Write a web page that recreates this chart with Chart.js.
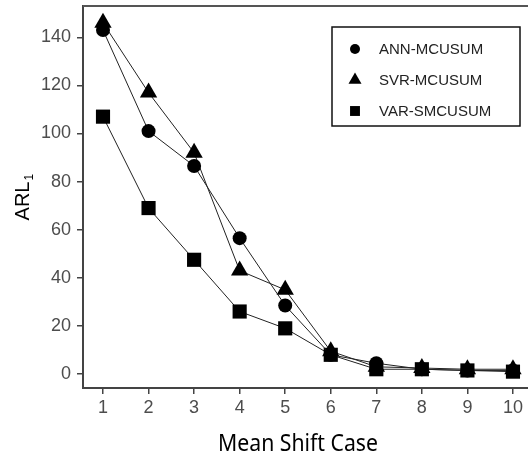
<!DOCTYPE html>
<html>
<head>
<meta charset="utf-8">
<script src="https://cdn.jsdelivr.net/npm/chart.js@4.4.1/dist/chart.umd.min.js"></script>
<style>
  html, body { margin: 0; padding: 0; background: #fff; }
  #wrap { width: 528px; height: 453px; }
</style>
</head>
<body>
<div id="wrap"><canvas id="myChart" width="528" height="453"></canvas></div>
<script>
// chart values
const shiftCases = [1, 2, 3, 4, 5, 6, 7, 8, 9, 10];
const annMcusum = [143, 101, 86.5, 56.5, 28.5, 8, 4.5, 2, 1.5, 1.5];
const svrMcusum = [146, 117, 92, 43, 35, 9.5, 3, 2.5, 2, 2];
const varSmcusum = [107, 69, 47.5, 26, 19, 8, 2, 2, 1.5, 1];
const seriesNames = ["ANN-MCUSUM", "SVR-MCUSUM", "VAR-SMCUSUM"];
const yTicks = [0, 20, 40, 60, 80, 100, 120, 140];

const tickFont = { family: "'Liberation Sans', Arial, sans-serif", size: 18 };
const tickColor = "#4d4d4d";

function toPoints(values) {
    return shiftCases.map(function (c, i) { return { x: c, y: values[i] }; });
}

function makeSet(label, values, style, radius) {
    return {
        label: label,
        data: toPoints(values),
        borderColor: "#222",
        borderWidth: 1,
        backgroundColor: "#000",
        pointBackgroundColor: "#000",
        pointBorderColor: "#000",
        pointBorderWidth: 0,
        pointStyle: style,
        pointRadius: radius,
        tension: 0
    };
}

// top border, boxed legend and the axis titles
const framePlugin = {
    id: "frame",
    afterDraw(chart) {
        const ctx = chart.ctx;
        const a = chart.chartArea;
        ctx.save();
        ctx.strokeStyle = "#555";
        ctx.lineWidth = 2;
        ctx.beginPath();
        ctx.moveTo(a.left, a.top);
        ctx.lineTo(a.right, a.top);
        ctx.stroke();

        // legend
        const lx = 332, ly = 27, lw = 188, lh = 99;
        ctx.fillStyle = "#fff";
        ctx.fillRect(lx, ly, lw, lh);
        ctx.strokeStyle = "#111";
        ctx.lineWidth = 1.5;
        ctx.strokeRect(lx, ly, lw, lh);
        const rows = [49, 80, 111];
        const sizes = [5, 7.5, 7];
        ctx.font = "15px 'Liberation Sans', Arial, sans-serif";
        ctx.textBaseline = "middle";
        chart.data.datasets.forEach(function (ds, i) {
            ctx.fillStyle = "#000";
            ctx.strokeStyle = "#000";
            Chart.helpers.drawPoint(ctx, { pointStyle: ds.pointStyle, radius: sizes[i], rotation: 0, borderWidth: 0 }, 355, rows[i]);
            ctx.fillStyle = "#222";
            ctx.fillText(ds.label, 379, rows[i] + 1);
        });

        // x title, a bit narrow like the original
        ctx.save();
        ctx.font = "24px 'Noto Sans', 'Open Sans', sans-serif";
        ctx.fillStyle = "#000";
        ctx.textBaseline = "alphabetic";
        const tw = ctx.measureText("Mean Shift Case").width;
        ctx.translate(298, 451);
        ctx.scale(160 / tw, 1);
        ctx.textAlign = "center";
        ctx.fillText("Mean Shift Case", 0, 0);
        ctx.restore();

        // y title with subscript
        ctx.translate(29, 201);
        ctx.rotate(-Math.PI / 2);
        ctx.fillStyle = "#000";
        ctx.textBaseline = "alphabetic";
        ctx.font = "20px 'Liberation Sans', Arial, sans-serif";
        const w = ctx.measureText("ARL").width;
        ctx.fillText("ARL", -w / 2, 0);
        ctx.font = "12px 'Liberation Sans', Arial, sans-serif";
        ctx.fillText("1", w / 2 + 1, 4);
        ctx.restore();
    }
};

var config = {
    type: "line",
    data: {
        datasets: [
            makeSet(seriesNames[0], annMcusum, "circle", 7),
            makeSet(seriesNames[1], svrMcusum, "triangle", 10),
            makeSet(seriesNames[2], varSmcusum, "rect", 10)
        ]
    },
    options: {
        responsive: false,
        animation: false,
        layout: { autoPadding: false, padding: { top: 6, right: 0, left: 0, bottom: 0 } },
        plugins: { legend: { display: false }, tooltip: { enabled: false } },
        scales: {
            x: {
                type: "linear",
                min: 0.561,
                max: 10.33,
                afterBuildTicks: function (scale) {
                    scale.ticks = shiftCases.map(function (v) { return { value: v }; });
                },
                afterFit: function (scale) {
                    scale.height = 65;
                    scale.paddingRight = 0;
                    scale.paddingLeft = 0;
                },
                grid: { drawOnChartArea: false, drawTicks: true, tickLength: 6, color: "#444", lineWidth: 1.5 },
                border: { display: true, color: "#444", width: 2 },
                ticks: { font: tickFont, color: tickColor, padding: 3 }
            },
            y: {
                type: "linear",
                min: -5.8,
                max: 153,
                afterBuildTicks: function (scale) {
                    scale.ticks = yTicks.map(function (v) { return { value: v }; });
                },
                afterFit: function (scale) {
                    scale.width = 83;
                    scale.paddingTop = 0;
                    scale.paddingBottom = 0;
                },
                grid: { drawOnChartArea: false, drawTicks: true, tickLength: 6, color: "#444", lineWidth: 1.5 },
                border: { display: true, color: "#444", width: 2 },
                ticks: { font: tickFont, color: tickColor, padding: 6 }
            }
        }
    },
    plugins: [framePlugin]
};

var myChart = new Chart(document.getElementById("myChart"), config);
</script>
</body>
</html>
